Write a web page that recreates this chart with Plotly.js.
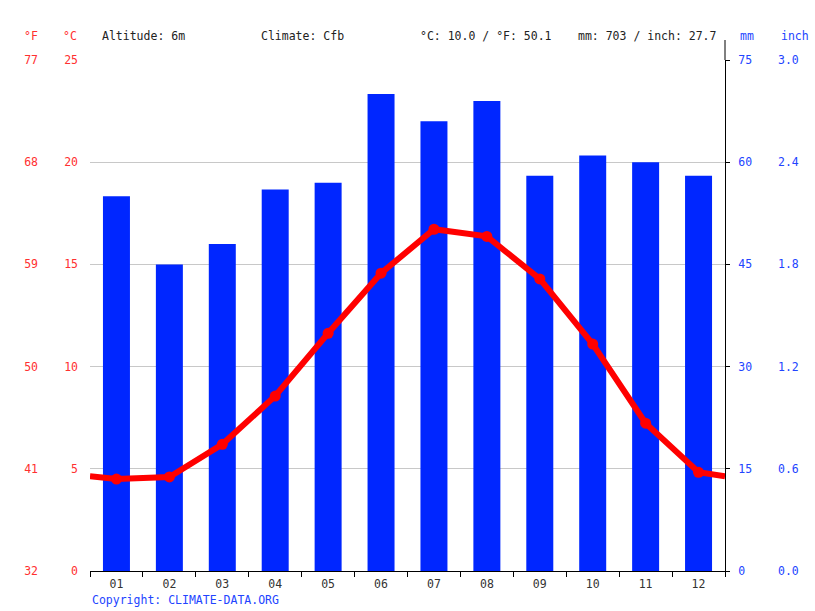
<!DOCTYPE html>
<html>
<head>
<meta charset="utf-8">
<script src="https://cdn.plot.ly/plotly-3.0.1.min.js"></script>
<style>html,body{margin:0;padding:0;background:#fff;}#chart{width:815px;height:611px;}</style>
</head>
<body>
<div id="chart"></div>
<script>
// Data
var months = [1,2,3,4,5,6,7,8,9,10,11,12];
var monthLabels = ['01','02','03','04','05','06','07','08','09','10','11','12'];
var precipMm = [55,45,48,56,57,70,66,69,58,61,60,58];
var tempC = [4.5,4.6,6.2,8.56,11.63,14.57,16.72,16.37,14.29,11.1,7.23,4.83];
var tempEdgeC = [4.64,4.64]; // line value at left and right plot edges
var cTicks = [0,5,10,15,20,25];
var fTicks = [32,41,50,59,68,77];
var mmTicks = [0,15,30,45,60,75];
var inchTicks = [0,0.6,1.2,1.8,2.4,3.0];

var FONT = '"DejaVu Sans Mono", "Liberation Mono", monospace';
var FS = 11.5;
var RED = '#ff3030', BLUE = '#2244ff';

var lineX = [0.5].concat(months, [12.5]);
var lineY = [tempEdgeC[0]].concat(tempC, [tempEdgeC[1]]);
var boundaries = [0.5].concat(months.map(function(m){return m+0.5;}));

function px2x(p){return (p-20)/775;}
function py2y(p){return (611-40-p)/511;}

function ghost(xa, ya, xs, ys){
  return {type:'scatter', mode:'markers', x:xs, y:ys, xaxis:xa, yaxis:ya,
    marker:{opacity:0, size:1}, hoverinfo:'skip', showlegend:false};
}

var traces = [
  {type:'bar', x:months, y:precipMm, xaxis:'x', yaxis:'y', width:0.51,
   marker:{color:'#0026ff', line:{width:0}}, hoverinfo:'skip'},
  ghost('x','y3',[1,12],[fTicks[0],fTicks[fTicks.length-1]]),
  ghost('x','y4',[1,12],[inchTicks[0],inchTicks[inchTicks.length-1]]),
  ghost('x2','y',boundaries,boundaries.map(function(){return 0;})),
  {type:'scatter', mode:'lines', x:lineX, y:lineY, xaxis:'x', yaxis:'y2',
   line:{color:'#ff0000', width:6}, hoverinfo:'skip'},
  {type:'scatter', mode:'markers', x:months, y:tempC, xaxis:'x', yaxis:'y2',
   marker:{color:'#ff0000', size:11}, hoverinfo:'skip'}
];

var layout = {
  width:815, height:611,
  margin:{l:20, r:20, t:60, b:40},
  paper_bgcolor:'#fff', plot_bgcolor:'#fff',
  showlegend:false,
  font:{family:FONT, size:FS, color:'#333'},
  xaxis:{domain:[px2x(90), px2x(725)], range:[0.5,12.5], tickvals:months, ticktext:monthLabels,
    ticks:'', showgrid:false, zeroline:false, showline:true, linecolor:'#000', linewidth:1,
    tickfont:{family:FONT, size:FS, color:'#333'}, ticklabelstandoff:2, fixedrange:true},
  xaxis2:{overlaying:'x', anchor:'y', range:[0.5,12.5], tickvals:boundaries, showticklabels:false,
    ticks:'outside', ticklen:5, tickcolor:'#000', showgrid:false, zeroline:false, showline:false},
  yaxis:{side:'right', anchor:'x', range:[0,75], tickvals:mmTicks, ticktext:mmTicks.map(String),
    showgrid:true, gridcolor:'#c8c8c8', gridwidth:1, zeroline:false, showline:true, linecolor:'#000', linewidth:1,
    ticks:'outside', ticklen:4, tickcolor:'#000', ticklabelstandoff:6,
    tickfont:{family:FONT, size:FS, color:BLUE}},
  yaxis2:{overlaying:'y', side:'left', anchor:'x', range:[0,25], tickvals:cTicks, ticktext:cTicks.map(String),
    showgrid:false, zeroline:false, showline:false, ticks:'', ticklabelstandoff:11,
    tickfont:{family:FONT, size:FS, color:RED}},
  yaxis3:{overlaying:'y', side:'left', anchor:'free', position:px2x(38), range:[32,77], tickvals:fTicks, ticktext:fTicks.map(String),
    showgrid:false, zeroline:false, showline:false, ticks:'',
    tickfont:{family:FONT, size:FS, color:RED}},
  yaxis4:{overlaying:'y', side:'right', anchor:'free', position:px2x(777), range:[0,3], tickvals:inchTicks, ticktext:inchTicks.map(function(v){return v.toFixed(1);}),
    showgrid:false, zeroline:false, showline:false, ticks:'',
    tickfont:{family:FONT, size:FS, color:BLUE}},
  shapes:[
    {type:'line', xref:'paper', yref:'paper', x0:px2x(725), x1:px2x(725), y0:1, y1:py2y(40), line:{color:'#000', width:1}}
  ],
  annotations:[
    {text:'°F', x:px2x(31), y:py2y(36), xanchor:'center', color:RED},
    {text:'°C', x:px2x(70), y:py2y(36), xanchor:'center', color:RED},
    {text:'Altitude: 6m', x:px2x(100), y:py2y(36), xanchor:'left', color:'#222'},
    {text:'Climate: Cfb', x:px2x(259), y:py2y(36), xanchor:'left', color:'#222'},
    {text:'°C: 10.0 / °F: 50.1', x:px2x(418), y:py2y(36), xanchor:'left', color:'#222'},
    {text:'mm: 703 / inch: 27.7', x:px2x(576), y:py2y(36), xanchor:'left', color:'#222'},
    {text:'mm', x:px2x(738), y:py2y(36), xanchor:'left', color:BLUE},
    {text:'inch', x:px2x(779), y:py2y(36), xanchor:'left', color:BLUE},
    {text:'Copyright: CLIMATE-DATA.ORG', x:px2x(90), y:py2y(600), xanchor:'left', color:BLUE}
  ].map(function(a){
    return {text:a.text, x:a.x, y:a.y, xref:'paper', yref:'paper', xanchor:a.xanchor, yanchor:'middle',
      showarrow:false, font:{family:FONT, size:FS, color:a.color}};
  })
};

Plotly.newPlot('chart', traces, layout, {displayModeBar:false, staticPlot:true});
</script>
</body>
</html>
